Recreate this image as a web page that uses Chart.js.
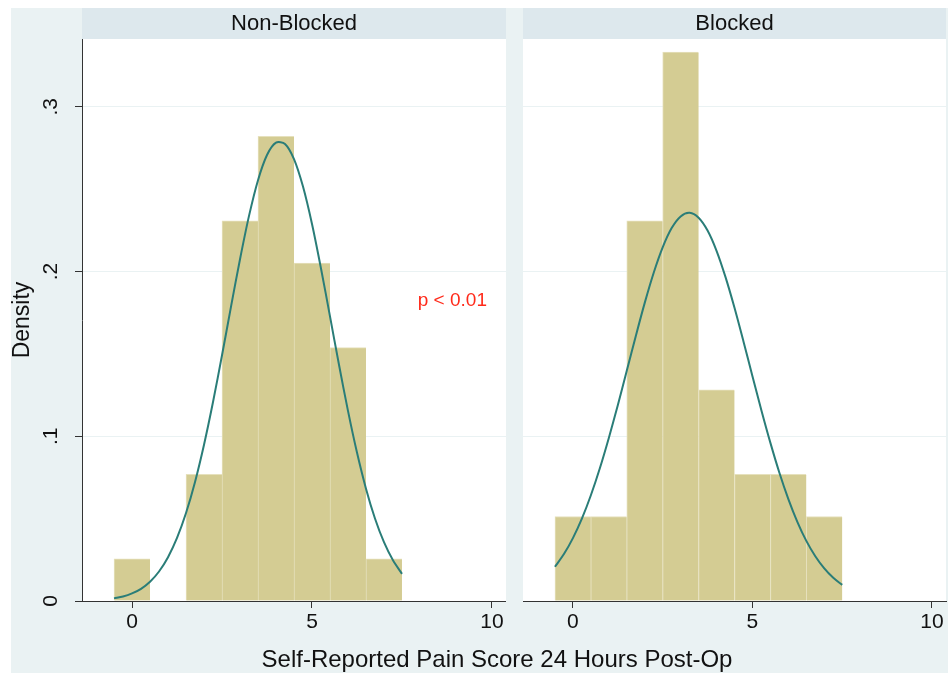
<!DOCTYPE html>
<html>
<head>
<meta charset="utf-8">
<script src="https://cdn.jsdelivr.net/npm/chart.js@4"></script>
<style>
  html, body { margin:0; padding:0; background:#fff; }
  body { width:951px; height:677px; position:relative; overflow:hidden; font-family:"Liberation Sans", Arial, sans-serif; }
  #bg { position:absolute; left:11px; top:8px; width:937px; height:665px; background:#eaf2f3; }
  #leftWrap { position:absolute; left:11px; top:8px; width:495px; height:664px; }
  #rightWrap { position:absolute; left:523px; top:8px; width:424px; height:664px; }
  #xTitle { position:absolute; left:0; width:994px; top:645px; text-align:center; font-size:24px; color:#111; }
</style>
</head>
<body>
<div id="bg"></div>
<div id="leftWrap"><canvas id="leftChart"></canvas></div>
<div id="rightWrap"><canvas id="rightChart"></canvas></div>
<div id="xTitle">Self-Reported Pain Score 24 Hours Post-Op</div>
<script>
// ------------------------
// DATA
// ------------------------
const panelTitles = ["Non-Blocked", "Blocked"];
const xTicks = [0, 5, 10];
const yTicks = [0, 0.1, 0.2, 0.3];
const xMin = -1.39, xMax = 10.39;
const yMax = 0.3412;

// histogram bins (width 1, centred on whole scores)
const binCenters = [0, 1, 2, 3, 4, 5, 6, 7];
const densityNonBlocked = [0.0256, 0, 0.0769, 0.2308, 0.2821, 0.2051, 0.1538, 0.0256];
const densityBlocked = [0.0513, 0.0513, 0.2308, 0.3333, 0.1282, 0.0769, 0.0769, 0.0513];

// normal density overlay
const curveX = [-0.5, -0.25, 0, 0.25, 0.5, 0.75, 1, 1.25, 1.5, 1.75, 2, 2.25, 2.5, 2.75, 3, 3.25,
  3.5, 3.75, 4, 4.25, 4.5, 4.75, 5, 5.25, 5.5, 5.75, 6, 6.25, 6.5, 6.75, 7, 7.25, 7.5];
const curveNonBlocked = [0.0016, 0.0027, 0.0046, 0.0074, 0.0117, 0.0179, 0.0266, 0.0383, 0.0534, 0.0723,
  0.0949, 0.1208, 0.1492, 0.1787, 0.2075, 0.2338, 0.2555, 0.2708, 0.2783, 0.2775, 0.2683, 0.2516,
  0.2289, 0.2019, 0.1728, 0.1434, 0.1154, 0.0901, 0.0682, 0.0501, 0.0357, 0.0247, 0.0165];
const curveBlocked = [0.0208, 0.0285, 0.0382, 0.0500, 0.0642, 0.0806, 0.0990, 0.1189, 0.1398, 0.1608,
  0.1810, 0.1993, 0.2147, 0.2264, 0.2335, 0.2357, 0.2327, 0.2249, 0.2126, 0.1966, 0.1780, 0.1576,
  0.1365, 0.1157, 0.0960, 0.0779, 0.0619, 0.0481, 0.0365, 0.0272, 0.0198, 0.0141, 0.0098];

const pNote = { text: "p < 0.01", x: 8.9, y: 0.182 };

// ------------------------
// STYLE
// ------------------------
const FONT = "'Liberation Sans', Arial, sans-serif";
const BAR_FILL = "#d4cc93";
const BAR_EDGE = "#e6e1bd";
const LINE_COL = "#2a7d78";
const AXIS_COL = "#333";
const GRID_COL = "#eaf2f3";
const STRIP_COL = "#dde8ed";

const toPts = (xs, ys) => xs.map((x, i) => ({ x, y: ys[i] }));

// white plot region + title strip on top
const panelPlugin = {
  id: "panel",
  beforeDraw(chart, args, opts) {
    const { ctx, chartArea: a } = chart;
    ctx.save();
    ctx.fillStyle = "#fff";
    ctx.fillRect(a.left, a.top, a.right - a.left, a.bottom - a.top);
    ctx.fillStyle = STRIP_COL;
    ctx.fillRect(a.left, 0, a.right - a.left, a.top);
    ctx.fillStyle = "#111";
    ctx.font = "22px " + FONT;
    ctx.textAlign = "center";
    ctx.textBaseline = "middle";
    ctx.fillText(opts.title, (a.left + a.right) / 2, a.top / 2 + 0.5);
    ctx.restore();
  },
  afterDraw(chart, args, opts) {
    if (!opts.note) return;
    const { ctx, scales } = chart;
    ctx.save();
    ctx.fillStyle = "#ff2a1a";
    ctx.font = "19px " + FONT;
    ctx.textAlign = "center";
    ctx.textBaseline = "middle";
    ctx.fillText(opts.note.text, scales.x.getPixelForValue(opts.note.x), scales.y.getPixelForValue(opts.note.y));
    ctx.restore();
  }
};

function makeChart(id, title, bars, curve, showY, note) {
  const ctx = document.getElementById(id).getContext("2d");
  return new Chart(ctx, {
    type: "bar",
    data: {
      datasets: [
        {
          type: "line",
          data: toPts(curveX, curve),
          borderColor: LINE_COL,
          borderWidth: 2,
          pointRadius: 0,
          tension: 0.3,
          fill: false,
          order: 0
        },
        {
          type: "bar",
          data: toPts(binCenters, bars),
          backgroundColor: BAR_FILL,
          borderColor: BAR_EDGE,
          borderWidth: { left: 1, top: 1, right: 0, bottom: 0 },
          borderSkipped: false,
          barPercentage: 1,
          categoryPercentage: 1,
          grouped: false,
          order: 1
        }
      ]
    },
    options: {
      responsive: false,
      animation: false,
      devicePixelRatio: 1,
      layout: { padding: { top: 31, left: 0, right: showY ? 0 : 1, bottom: 0 } },
      plugins: {
        legend: { display: false },
        tooltip: { enabled: false },
        panel: { title, note }
      },
      scales: {
        x: {
          type: "linear",
          offset: false,
          min: xMin, max: xMax,
          afterBuildTicks: s => { s.ticks = xTicks.map(v => ({ value: v })); },
          afterFit: s => { s.height = 71; s.paddingLeft = 0; s.paddingRight = 0; },
          grid: { offset: false, drawOnChartArea: false, tickLength: 7, tickColor: AXIS_COL, tickWidth: 1 },
          border: { display: true, color: AXIS_COL, width: 1, z: 1 },
          ticks: { color: "#111", font: { family: FONT, size: 21 }, padding: 2, maxRotation: 0 }
        },
        y: {
          min: 0, max: yMax,
          afterBuildTicks: s => { s.ticks = yTicks.map(v => ({ value: v })); },
          afterFit: s => { s.width = showY ? 71 : 0; s.paddingTop = 0; s.paddingBottom = 0; },
          grid: { color: GRID_COL, tickLength: showY ? 7 : 0, drawTicks: showY, tickColor: AXIS_COL, tickWidth: 1 },
          border: { display: showY, color: AXIS_COL, width: 1, z: 1 },
          ticks: {
            display: showY,
            color: "#111",
            font: { family: FONT, size: 21 },
            minRotation: 90, maxRotation: 90,
            crossAlign: "center",
            padding: 15,
            callback: v => v === 0 ? "0" : v.toFixed(1).replace(/^0/, "")
          },
          title: {
            display: showY,
            text: "Density",
            color: "#111",
            font: { family: FONT, size: 23, lineHeight: 1 },
            padding: { top: 0, bottom: 0 }
          }
        }
      }
    },
    plugins: [panelPlugin]
  });
}

// canvases sized to their wrappers
function sizeCanvas(id, w, h) {
  const c = document.getElementById(id);
  c.width = w; c.height = h;
  c.style.width = w + "px"; c.style.height = h + "px";
}

// ------------------------
// INIT
// ------------------------
(function init(){
  sizeCanvas("leftChart", 495, 664);
  sizeCanvas("rightChart", 424, 664);
  makeChart("leftChart", panelTitles[0], densityNonBlocked, curveNonBlocked, true, pNote);
  makeChart("rightChart", panelTitles[1], densityBlocked, curveBlocked, false, null);
})();
</script>
</body>
</html>
